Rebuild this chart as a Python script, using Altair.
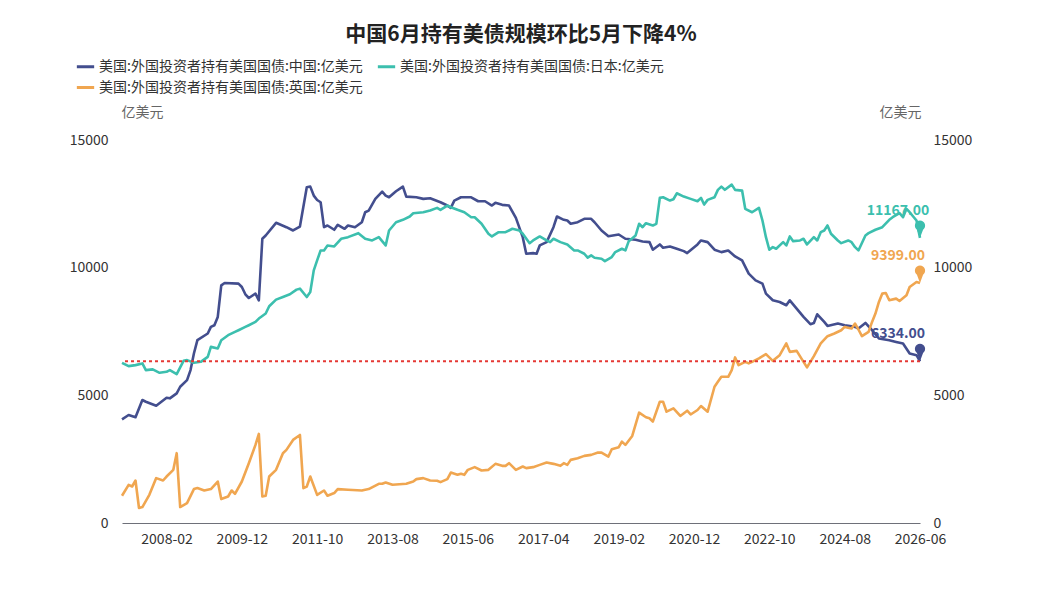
import altair as alt
import pandas as pd

FONT = "Noto Sans CJK SC"
TITLE = "中国6月持有美债规模环比5月下降4%"
SERIES = [
    "美国:外国投资者持有美国国债:中国:亿美元",
    "美国:外国投资者持有美国国债:日本:亿美元",
    "美国:外国投资者持有美国国债:英国:亿美元",
]
COLORS = ["#434E8E", "#3CBFAE", "#F0A650"]
UNIT = "亿美元"
START_YEAR, START_MONTH = 2007, 1
END_LABEL = "2026-06"
TICK_LABELS = ["2008-02", "2009-12", "2011-10", "2013-08", "2015-06", "2017-04",
               "2019-02", "2020-12", "2022-10", "2024-08", "2026-06"]
Y_TICKS = [0, 5000, 10000, 15000]

# months counted from 2007-01
CN_MONTH = [0, 2, 4, 6, 7, 10, 13, 14, 16, 17, 19, 20, 21, 22, 25, 26, 27, 28, 29, 30,
            34, 35, 36, 37, 39, 40, 41, 42, 45, 48, 50, 52, 54, 55, 56, 57, 58, 59, 60, 62,
            63, 65, 66, 68, 70, 71, 72, 74, 76, 77, 78, 80, 82, 83, 86, 88, 90, 93, 95, 96,
            97, 99, 102, 104, 106, 108, 109, 111, 113, 115, 117, 118, 120, 121, 122, 124, 126, 127, 129, 130,
            131, 133, 135, 137, 138, 140, 142, 145, 147, 150, 152, 154, 155, 157, 158, 160, 162, 164, 165, 168,
            169, 171, 173, 175, 177, 179, 181, 183, 185, 187, 188, 190, 192, 194, 195, 197, 199, 201, 202, 203,
            205, 206, 209, 211, 214, 215, 217, 219, 221, 224, 226, 228, 230, 232, 233]
CN_VALUE = [4062, 4230, 4140, 4816, 4750, 4594, 4906, 4882, 5078, 5336, 5597, 5988, 6640, 7160, 7421, 7680, 7745, 8070, 9308, 9400,
            9375, 9242, 8957, 8812, 8984, 8722, 11132, 11261, 11757, 11585, 11456, 11612, 13148, 13175, 12823, 12650, 12562, 11585, 11652, 11484,
            11679, 11523, 11652, 11585, 11780, 12171, 12237, 12694, 12980, 12823, 12757, 12991, 13175, 12784, 12757, 12694, 12718, 12562, 12433, 12343,
            12628, 12757, 12757, 12601, 12601, 12433, 12538, 12460, 12433, 11950, 11195, 10546, 10570, 10546, 10870, 11000, 11585, 12003, 11874, 11847,
            11718, 11780, 11913, 11913, 11780, 11456, 11234, 11300, 11132, 11093, 11027, 11000, 10702, 10909, 10780, 10831, 10741, 10648, 10570, 10909,
            11066, 11000, 10702, 10609, 10675, 10441, 10285, 9765, 9503, 9374, 8984, 8722, 8656, 8527, 8722, 8398, 8070, 7785, 7836, 8175,
            7875, 7718, 7812, 7745, 7680, 7617, 7836, 7550, 7226, 7160, 7093, 7031, 6640, 6574, 6334]

JP_MONTH = [0, 2, 4, 6, 7, 9, 11, 13, 14, 16, 18, 19, 21, 23, 25, 26, 28, 29, 31, 33,
            34, 36, 37, 39, 40, 42, 43, 45, 47, 49, 51, 52, 54, 55, 56, 57, 58, 59, 60, 62,
            64, 66, 69, 71, 73, 75, 77, 78, 80, 82, 84, 85, 88, 90, 92, 93, 95, 96, 98, 100,
            102, 103, 105, 107, 108, 110, 112, 114, 116, 117, 119, 120, 122, 124, 125, 126, 128, 130, 132, 133,
            135, 136, 137, 138, 140, 141, 143, 144, 146, 147, 148, 150, 151, 152, 153, 155, 156, 157, 158, 160,
            161, 162, 164, 166, 168, 169, 170, 171, 173, 174, 175, 176, 178, 179, 181, 182, 184, 186, 187, 188,
            189, 190, 191, 193, 194, 195, 196, 198, 199, 200, 202, 203, 204, 205, 206, 207, 209, 210, 212, 213,
            214, 215, 217, 218, 220, 222, 224, 225, 227, 228, 229, 230, 232, 233]
JP_VALUE = [6273, 6144, 6183, 6250, 5988, 6015, 5882, 5922, 5988, 5832, 6351, 6378, 6273, 6312, 6507, 6898, 6836, 7160, 7355, 7484,
            7550, 7680, 7745, 7875, 8007, 8203, 8488, 8749, 8851, 8957, 9140, 9179, 8851, 9046, 9894, 10285, 10675, 10675, 10870, 10831,
            11132, 11195, 11351, 11132, 11066, 11195, 10870, 11456, 11780, 11874, 12003, 12132, 12171, 12237, 12343, 12265, 12433, 12367, 12265, 12171,
            11976, 11976, 11718, 11327, 11222, 11390, 11390, 11523, 11456, 11327, 10960, 11066, 11222, 11066, 11000, 11132, 11000, 10909, 10675, 10675,
            10546, 10390, 10480, 10390, 10351, 10257, 10414, 10609, 10741, 10675, 11039, 11261, 11718, 11585, 11741, 11652, 11718, 12734, 12757, 12628,
            12680, 12913, 12784, 12694, 12601, 12734, 12472, 12655, 12757, 13046, 13175, 13050, 13253, 13046, 13019, 12304, 12171, 12343, 11847, 11195,
            10702, 10804, 10741, 11000, 10870, 11222, 11039, 11066, 11132, 10909, 11195, 11066, 11390, 11456, 11652, 11327, 11066, 10960, 11066, 11000,
            10804, 10675, 11261, 11351, 11484, 11585, 11874, 11976, 12132, 11976, 12304, 12171, 11847, 11167]

UK_MONTH = [0, 2, 3, 4, 5, 6, 8, 10, 12, 13, 15, 16, 17, 19, 21, 22, 24, 26, 28, 29,
            31, 32, 33, 35, 37, 39, 40, 41, 42, 43, 45, 47, 48, 50, 52, 53, 54, 55, 57, 59,
            60, 62, 63, 66, 70, 72, 75, 76, 77, 79, 83, 85, 86, 88, 90, 92, 93, 95, 96, 98,
            99, 100, 101, 103, 105, 107, 109, 111, 112, 113, 115, 117, 118, 120, 122, 124, 126, 128, 129, 130,
            131, 133, 135, 137, 139, 140, 142, 143, 145, 146, 147, 149, 151, 153, 154, 155, 157, 158, 159, 161,
            163, 165, 166, 168, 169, 171, 173, 174, 175, 177, 178, 179, 180, 182, 183, 184, 186, 188, 190, 192,
            194, 195, 197, 199, 200, 202, 204, 206, 208, 210, 211, 213, 214, 215, 216, 218, 219, 220, 221, 222,
            223, 224, 226, 227, 229, 230, 232, 233]
UK_VALUE = [1066, 1496, 1430, 1664, 586, 625, 1105, 1758, 1664, 1820, 2082, 2734, 625, 781, 1328, 1367, 1273, 1328, 1625, 937,
            1039, 1273, 1144, 1625, 2343, 3058, 3488, 1039, 1066, 1820, 2082, 2734, 2863, 3254, 3449, 1367, 1430, 1820, 1100, 1273,
            1066, 1172, 1328, 1300, 1273, 1328, 1535, 1535, 1586, 1496, 1535, 1625, 1719, 1758, 1664, 1652, 1601, 1719, 1976, 1887,
            1926, 1887, 2082, 2187, 2055, 2082, 2316, 2238, 2238, 2343, 2082, 2211, 2148, 2187, 2277, 2367, 2316, 2238, 2343, 2277,
            2472, 2539, 2629, 2668, 2758, 2758, 2602, 2890, 2968, 3187, 3058, 3410, 4320, 4140, 4101, 3968, 4750, 4750, 4359, 4492,
            4191, 4398, 4250, 4425, 4582, 4359, 5336, 5531, 5726, 5726, 5988, 6484, 6183, 6312, 6250, 6312, 6445, 6613, 6351, 6574,
            7031, 6703, 6742, 6312, 6093, 6535, 7031, 7316, 7421, 7550, 7680, 7617, 7812, 7578, 7316, 7484, 7875, 8203, 8656, 8984,
            9010, 8722, 8788, 8694, 8917, 9242, 9437, 9399]

MONTHS = [CN_MONTH, JP_MONTH, UK_MONTH]
VALUES = [CN_VALUE, JP_VALUE, UK_VALUE]


def month_to_date(m):
    return pd.Timestamp(year=START_YEAR, month=START_MONTH, day=1) + pd.DateOffset(months=int(m))


rows = []
for name, ms, vs in zip(SERIES, MONTHS, VALUES):
    for m, v in zip(ms, vs):
        rows.append({"date": month_to_date(m), "value": v, "series": name})
df = pd.DataFrame(rows)

end_df = pd.DataFrame([
    {"date": month_to_date(ms[-1]), "value": vs[-1], "series": name, "hex": col}
    for name, ms, vs, col in zip(SERIES, MONTHS, VALUES, COLORS)
])
rule_df = pd.DataFrame({"value": [CN_VALUE[-1]]})


def dt(label):
    return alt.DateTime(year=int(label[:4]), month=int(label[5:7]), date=1)


x_enc = alt.X(
    "date:T",
    scale=alt.Scale(domain=[alt.DateTime(year=START_YEAR, month=START_MONTH, date=1), dt(END_LABEL)]),
    axis=alt.Axis(values=[dt(t) for t in TICK_LABELS], format="%Y-%m", title=None, grid=False,
                  ticks=False, tickSize=0, domainColor="#6E7079", domainWidth=1.2,
                  labelFontSize=14, labelColor="#333333", labelFont=FONT, labelPadding=9,
                  labelOverlap=False, labelFlush=False),
)
y_scale = alt.Scale(domain=[0, 15000], nice=False, zero=True)

lines = alt.Chart(df).mark_line(strokeWidth=2.6, strokeJoin="round").encode(
    x=x_enc,
    y=alt.Y("value:Q", scale=y_scale,
            axis=alt.Axis(values=Y_TICKS, format="d", title=UNIT, titleAngle=0, titleX=20, titleY=-28,
                          titleAlign="center", titleBaseline="middle", titleFontSize=14,
                          titleFontWeight="normal", titleColor="#666666", titleFont=FONT,
                          grid=False, domain=False, ticks=False, tickSize=0,
                          labelFontSize=14, labelColor="#333333", labelFont=FONT, labelPadding=14)),
    color=alt.Color("series:N", scale=alt.Scale(domain=SERIES, range=COLORS),
                    legend=alt.Legend(title=None, orient="none", legendX=-47, legendY=-84,
                                      direction="horizontal", columns=2, symbolType="stroke",
                                      symbolStrokeWidth=3, symbolSize=300, labelFontSize=14,
                                      labelFont=FONT, labelColor="#333333", labelLimit=0,
                                      columnPadding=8, rowPadding=3, labelOffset=3, padding=0)),
)

rule = alt.Chart(rule_df).mark_rule(color="#E53935", strokeDash=[3, 3], strokeWidth=1.8).encode(
    y=alt.Y("value:Q", scale=y_scale)
)

PIN = "M0,0 L-0.3,-0.8 A0.5,0.5 0 1 1 0.3,-0.8 Z"
pins = alt.Chart(end_df).mark_point(shape=PIN, size=420, filled=True, opacity=1, strokeWidth=0).encode(
    x="date:T", y=alt.Y("value:Q", scale=y_scale), color=alt.Color("hex:N", scale=None)
)
labels = alt.Chart(end_df).mark_text(dx=-22, dy=-27, fontSize=14, fontWeight="bold", font=FONT).encode(
    x="date:T", y=alt.Y("value:Q", scale=y_scale),
    text=alt.Text("value:Q", format=".2f"), color=alt.Color("hex:N", scale=None)
)

right = alt.Chart(df).mark_line(opacity=0).encode(
    x="date:T",
    y=alt.Y("value:Q", scale=y_scale,
            axis=alt.Axis(orient="right", values=Y_TICKS, format="d", title=UNIT, titleAngle=0, titleX=-20, titleY=-28,
                          titleAlign="center", titleBaseline="middle", titleFontSize=14,
                          titleFontWeight="normal", titleColor="#666666", titleFont=FONT,
                          grid=False, domain=False, ticks=False, tickSize=0,
                          labelFontSize=14, labelColor="#333333", labelFont=FONT, labelPadding=13)),
    detail="series:N",
)

chart = alt.layer(alt.layer(lines, rule, pins, labels), right).resolve_scale(y="independent").properties(
    width=798, height=383,
    title=alt.TitleParams(TITLE, fontSize=21, fontWeight="bold", font=FONT, color="#222222",
                          anchor="middle", offset=11),
    autosize=alt.AutoSizeParams(type="none"),
    padding={"left": 114, "top": 132, "right": 110, "bottom": 60},
).configure_view(stroke=None)

chart.save("out.html", embed_options={"renderer": "svg", "actions": False})
